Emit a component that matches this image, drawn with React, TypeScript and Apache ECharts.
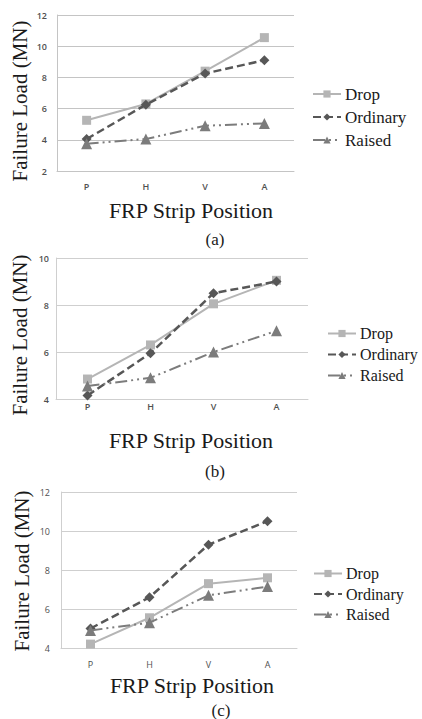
import React, { useEffect, useRef } from "react";
import * as echarts from "echarts";

const categories = ["P", "H", "V", "A"];
const seriesNames = ["Drop", "Ordinary", "Raised"];

const dropA = [5.25, 6.3, 8.4, 10.55];
const ordinaryA = [4.05, 6.25, 8.25, 9.1];
const raisedA = [3.75, 4.05, 4.9, 5.05];

const dropB = [4.85, 6.3, 8.05, 9.05];
const ordinaryB = [4.15, 5.95, 8.5, 9.0];
const raisedB = [4.55, 4.9, 6.0, 6.9];

const dropC = [4.2, 5.55, 7.3, 7.6];
const ordinaryC = [5.0, 6.6, 9.3, 10.5];
const raisedC = [4.9, 5.3, 6.7, 7.15];

const yRanges = [
  { min: 2, max: 12 },
  { min: 4, max: 10 },
  { min: 4, max: 12 },
];
const captions = ["(a)", "(b)", "(c)"];
const yTitle = "Failure Load (MN)";
const xTitle = "FRP Strip Position";

const SERIF = "Liberation Serif";
const SANS = "Open Sans";

const C_DROP = "#b5b5b5";
const C_ORD = "#575757";
const C_RAISED = "#7c7c7c";
const GRID_LINES = ["#c4c4c4", "#cfcfcf", "#cfcfcf"];

export default function App() {
  const ref = useRef<HTMLDivElement>(null);

  useEffect(() => {
    if (!ref.current) return;
    const chart = echarts.init(ref.current, null, { renderer: "svg" });

    const grids = [
      { left: 57, top: 15, width: 237, height: 156 },
      { left: 56, top: 258, width: 252, height: 141 },
      { left: 61, top: 492, width: 236, height: 156 },
    ];
    const xLabelMargin = [11, 3, 12];
    const yLabelMargin = [10, 7, 11];
    const labelWeight = [600, 600, 400];

    const data = [
      [dropA, ordinaryA, raisedA],
      [dropB, ordinaryB, raisedB],
      [dropC, ordinaryC, raisedC],
    ];

    const xAxis = grids.map((_, i) => ({
      type: "category",
      gridIndex: i,
      data: categories,
      boundaryGap: true,
      axisLine: { show: true, lineStyle: { color: GRID_LINES[i], width: 1 } },
      axisTick: { show: false },
      axisLabel: {
        margin: xLabelMargin[i],
        fontSize: 9,
        fontFamily: SANS,
        fontWeight: labelWeight[i],
        color: "#505050",
      },
      splitLine: { show: false },
    }));

    const yAxis = grids.map((_, i) => ({
      type: "value",
      gridIndex: i,
      min: yRanges[i].min,
      max: yRanges[i].max,
      interval: 2,
      axisLine: { show: true, lineStyle: { color: GRID_LINES[i], width: 1 } },
      axisTick: { show: false },
      axisLabel: {
        margin: yLabelMargin[i],
        fontSize: 9,
        fontFamily: SANS,
        fontWeight: labelWeight[i],
        color: "#505050",
      },
      splitLine: { show: true, lineStyle: { color: GRID_LINES[i], width: 1 } },
    }));

    const styles = [
      {
        color: C_DROP,
        symbol: "rect",
        symbolSize: 9,
        lineStyle: { color: C_DROP, width: 2, type: "solid" },
      },
      {
        color: C_ORD,
        symbol: "diamond",
        symbolSize: [10, 10],
        lineStyle: { color: C_ORD, width: 2.5, type: [8, 4] },
      },
      {
        color: C_RAISED,
        symbol: "triangle",
        symbolSize: 11,
        lineStyle: { color: C_RAISED, width: 2, type: [12, 4, 2, 4, 2, 4] },
      },
    ];

    const series: any[] = [];
    data.forEach((group, gi) => {
      group.forEach((vals, si) => {
        const st = styles[si];
        series.push({
          type: "line",
          name: seriesNames[si],
          xAxisIndex: gi,
          yAxisIndex: gi,
          data: vals,
          symbol: st.symbol,
          symbolSize: st.symbolSize,
          showAllSymbol: true,
          itemStyle: { color: st.color },
          lineStyle: st.lineStyle,
          z: 2 + si,
        });
      });
    });

    const legendTops = [85.5, 325.5, 565.5];
    const legendLefts = [312, 327, 313];
    const legendGaps = [6, 5, 4.5];
    const legendFont = [17, 16, 16];
    const legend = legendTops.map((top, i) => ({
      data: seriesNames,
      orient: "vertical",
      left: legendLefts[i],
      top,
      itemWidth: 28,
      itemHeight: 9,
      itemGap: legendGaps[i],
      padding: 0,
      selectedMode: false,
      textStyle: {
        fontFamily: SERIF,
        fontSize: legendFont[i],
        lineHeight: 15,
        color: "#1a1a1a",
        padding: [0, 0, 0, -1],
      },
    }));

    const yTitleCenters = [
      { x: 20, y: 101 },
      { x: 20, y: 335 },
      { x: 22, y: 571 },
    ];
    const xTitleCenters = [
      { x: 191, y: 210 },
      { x: 191, y: 440 },
      { x: 192, y: 685 },
    ];
    const captionCenters = [
      { x: 215, y: 239 },
      { x: 215, y: 471 },
      { x: 221, y: 710 },
    ];

    const graphic: any[] = [];
    for (let i = 0; i < 3; i++) {
      graphic.push({
        type: "text",
        x: yTitleCenters[i].x,
        y: yTitleCenters[i].y,
        rotation: Math.PI / 2,
        style: {
          text: yTitle,
          font: "21px 'Liberation Serif', serif",
          fill: "#1a1a1a",
          textAlign: "center",
          textVerticalAlign: "middle",
        },
      });
      graphic.push({
        type: "text",
        x: xTitleCenters[i].x,
        y: xTitleCenters[i].y,
        style: {
          text: xTitle,
          font: "22px 'Liberation Serif', serif",
          fill: "#1a1a1a",
          textAlign: "center",
          textVerticalAlign: "middle",
        },
      });
      graphic.push({
        type: "text",
        x: captionCenters[i].x,
        y: captionCenters[i].y,
        style: {
          text: captions[i],
          font: "17px 'Liberation Serif', serif",
          fill: "#1a1a1a",
          textAlign: "center",
          textVerticalAlign: "middle",
        },
      });
    }

    chart.setOption({
      animation: false,
      backgroundColor: "#ffffff",
      grid: grids,
      xAxis,
      yAxis,
      legend,
      series,
      graphic,
    });

    return () => {
      chart.dispose();
    };
  }, []);

  return (
    <div
      ref={ref}
      style={{ position: "absolute", left: 0, top: 0, width: 422, height: 719 }}
    />
  );
}
